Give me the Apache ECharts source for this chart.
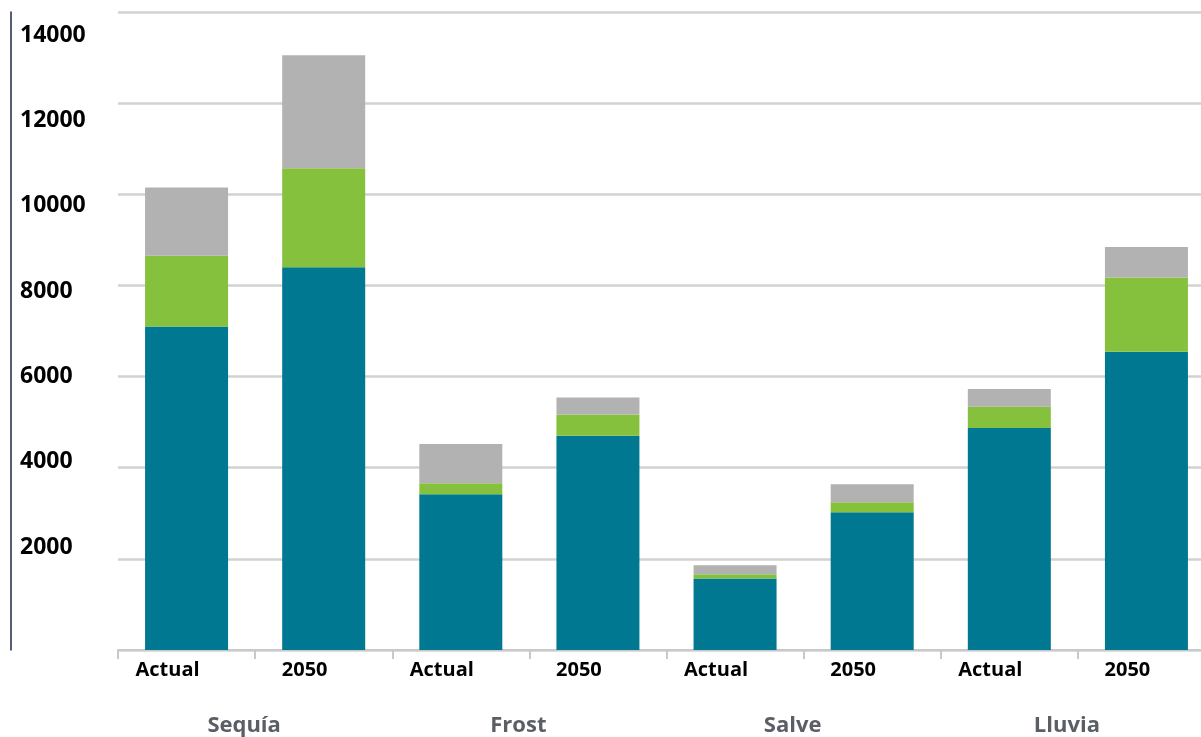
<!DOCTYPE html>
<html>
<head>
<meta charset="utf-8">
<script src="https://cdn.jsdelivr.net/npm/echarts@6/dist/echarts.min.js"></script>
<style>
html,body{margin:0;padding:0;background:#fff;}
#chart{width:1201px;height:737px;}
</style>
</head>
<body>
<div id="chart"></div>
<script>
const categories = ['Actual', '2050', 'Actual', '2050', 'Actual', '2050', 'Actual', '2050'];
const groups = ['Sequía', 'Frost', 'Salve', 'Lluvia'];
const tealValues = [7100, 8400, 3420, 4700, 1570, 3020, 4870, 6545];
const greenValues = [1550, 2170, 240, 470, 90, 220, 470, 1630];
const grayValues = [1500, 2480, 860, 370, 200, 395, 390, 670];
const yTicks = [2000, 4000, 6000, 8000, 10000, 12000, 14000];

const font = 'Open Sans';
const chart = echarts.init(document.getElementById('chart'));
chart.setOption({
  animation: false,
  backgroundColor: '#ffffff',
  grid: [
    {left: 118, width: 1097, top: 12, bottom: 87, containLabel: false, outerBoundsMode: 'none'},
    {left: 118, width: 1097, top: 35, bottom: 104.7, containLabel: false, outerBoundsMode: 'none'}
  ],
  xAxis: [
    {
      type: 'category', gridIndex: 0, data: categories, position: 'bottom',
      axisLine: {show: true, lineStyle: {color: '#c9c9c9', width: 2}},
      axisTick: {show: true, interval: 0, length: 9, lineStyle: {color: '#c9c9c9', width: 2}},
      axisLabel: {interval: 0, color: '#000', fontFamily: font, fontWeight: 'bold', fontSize: 20, margin: 10, padding: [0, 38, 0, 0]}
    },
    {
      type: 'category', gridIndex: 0, data: groups, position: 'bottom', offset: 57,
      axisLine: {show: false}, axisTick: {show: false},
      axisLabel: {interval: 0, color: '#5a5f66', fontFamily: font, fontWeight: 'bold', fontSize: 22, margin: 8, padding: [0, 22, 0, 0]}
    },
    {type: 'value', gridIndex: 1, show: false, min: 0, max: 1}
  ],
  yAxis: [
    {
      type: 'value', gridIndex: 0, min: 0, max: 14000, interval: 2000, offset: 107,
      axisLine: {show: true, lineStyle: {color: '#1b2a4a', width: 1.5}},
      axisTick: {show: false},
      axisLabel: {show: false},
      splitLine: {show: true, lineStyle: {color: '#d2d2d2', width: 2.5}}
    },
    {
      type: 'value', gridIndex: 1, min: 0, max: 14000, interval: 2000,
      axisLine: {show: false}, axisTick: {show: false}, splitLine: {show: false},
      axisLabel: {
        show: true, align: 'left', margin: 98, color: '#000',
        fontFamily: font, fontWeight: 'bold', fontSize: 23,
        formatter: v => (yTicks.indexOf(v) >= 0 ? String(v) : '')
      }
    }
  ],
  series: [
    {name: 'A', type: 'bar', stack: 's', xAxisIndex: 0, yAxisIndex: 0, barWidth: 83, data: tealValues, itemStyle: {color: '#007891'}},
    {name: 'B', type: 'bar', stack: 's', xAxisIndex: 0, yAxisIndex: 0, barWidth: 83, data: greenValues, itemStyle: {color: '#86c13d'}},
    {name: 'C', type: 'bar', stack: 's', xAxisIndex: 0, yAxisIndex: 0, barWidth: 83, data: grayValues, itemStyle: {color: '#b2b2b2'}}
  ]
});
</script>
</body>
</html>
